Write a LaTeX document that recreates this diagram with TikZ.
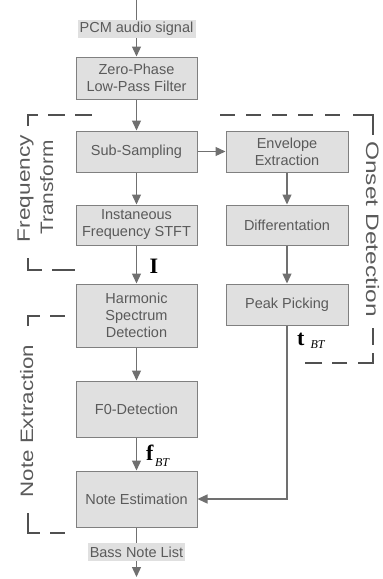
\documentclass[tikz,border=0pt]{standalone}
\usepackage{fontspec}
\setmainfont{Liberation Sans}
\newfontfamily\tnr{Liberation Serif}
\usetikzlibrary{arrows.meta}
\definecolor{boxfill}{HTML}{E0E0E0}
\definecolor{boxline}{HTML}{808080}
\definecolor{txtc}{HTML}{5A5A5A}
\definecolor{connc}{HTML}{707070}
\definecolor{dashc}{HTML}{505050}
\begin{document}
\begin{tikzpicture}[x=1pt,y=-1pt,
  blk/.style={draw=boxline, fill=boxfill, line width=1pt, minimum width=121pt, text=txtc, align=center, font=\fontsize{14.5}{17}\selectfont, inner sep=0pt},
  lbl/.style={fill=boxfill, text=txtc, font=\fontsize{14.5}{17}\selectfont, inner sep=1.5pt},
  conn/.style={draw=connc, line width=1.3pt},
  arr/.style={conn, -{Triangle[width=9pt,length=10pt]}},
  brk/.style={draw=dashc, line width=2pt},
  side/.style={text=txtc, font=\fontsize{18}{18}\selectfont, inner sep=0pt},
  sym/.style={inner sep=0pt, anchor=base west}
]
\useasboundingbox (0,0) rectangle (383,579);

% blocks
\node[blk, minimum height=42pt] (zero) at (136.5,78) {Zero-Phase\\Low-Pass Filter};
\node[blk, minimum height=41pt] (sub) at (136.5,151.5) {Sub-Sampling};
\node[blk, minimum height=41pt, minimum width=122pt] (env) at (287,151.5) {Envelope\\Extraction};
\node[blk, minimum height=40pt] (stft) at (136.5,225) {Instaneous\\Frequency STFT};
\node[blk, minimum height=40pt, minimum width=122pt] (diff) at (287,225) {Differentation};
\node[blk, minimum height=63pt] (harm) at (136.5,315.5) {Harmonic\\Spectrum\\Detection};
\node[blk, minimum height=41pt, minimum width=122pt] (peak) at (287,304.5) {Peak Picking};
\node[blk, minimum height=56pt] (f0) at (136.5,409) {F0-Detection};
\node[blk, minimum height=56pt] (note) at (136.5,499) {Note Estimation};
\node[lbl, minimum width=118pt, minimum height=18pt] (pcm) at (136.5,29) {PCM audio signal};
\node[lbl, minimum width=97pt, minimum height=18pt] (bass) at (136.5,552) {Bass Note List};
\coordinate (top) at (136.5,0);
\coordinate (out) at (136.5,577);
\coordinate (bend) at (287,499);

% connectors
\draw[conn] (top) -- (pcm.north);
\draw[arr] (pcm) -- (zero);
\draw[arr] (zero) -- (sub);
\draw[arr] (sub) -- (stft);
\draw[arr] (stft) -- (harm);
\draw[arr] (harm) -- (f0);
\draw[arr] (f0) -- (note);
\draw[conn] (note) -- (bass);
\draw[arr] (bass) -- (out);
\draw[arr] (sub) -- (env);
\draw[arr] (env) -- (diff);
\draw[arr] (diff) -- (peak);
\draw[arr] (peak.south) -- (bend) -- (note.east);

% symbol labels
\node[sym] (lI) at (149.5,273) {\tnr\fontsize{22}{22}\selectfont\bfseries I};
\node[sym] (lt) at (297,345) {{\tnr\fontsize{22}{22}\selectfont\bfseries t}\hspace{6pt}\raisebox{-3pt}{\tnr\itshape\fontsize{12}{12}\selectfont BT}};
\node[sym] (lf) at (146,460) {{\tnr\fontsize{22}{22}\selectfont\bfseries f}\hspace{1.5pt}\raisebox{-6pt}{\tnr\itshape\fontsize{12}{12}\selectfont BT}};

% group labels
\node[side, rotate=90, anchor=base] (ft1) at (30,188.5) {\scalebox{1.26}[1]{Frequency}};
\node[side, rotate=90, anchor=base] (ft2) at (53,187.5) {\scalebox{1.16}[1]{Transform}};
\node[side, rotate=90, anchor=base] (ne) at (33,421) {\scalebox{1.24}[1]{Note Extraction}};
\node[side, rotate=-90, anchor=base] (od) at (366,229) {\scalebox{1.36}[1]{Onset Detection}};

% dashed group brackets
\draw[brk] (28,126) -- (28,115) -- (38,115);
\draw[brk] (48,115) -- (65,115);
\draw[brk] (75,115) -- (92,115);
\draw[brk] (28,258) -- (28,270) -- (42,270);
\draw[brk] (52,270) -- (75,270);
\draw[brk] (220,115) -- (235,115);
\draw[brk] (246,115) -- (261,115);
\draw[brk] (272,115) -- (287,115);
\draw[brk] (298,115) -- (313,115);
\draw[brk] (325,115) -- (340,115);
\draw[brk] (353,115) -- (373,115) -- (373,135);
\draw[brk] (373,328) -- (373,345);
\draw[brk] (373,353) -- (373,363) -- (358,363);
\draw[brk] (347,363) -- (332,363);
\draw[brk] (322,363) -- (305,363);
\draw[brk] (28,326) -- (28,316) -- (40,316);
\draw[brk] (50,316) -- (65,316);
\draw[brk] (28,513) -- (28,533) -- (40,533);
\draw[brk] (50,533) -- (65,533);
\end{tikzpicture}
\end{document}
